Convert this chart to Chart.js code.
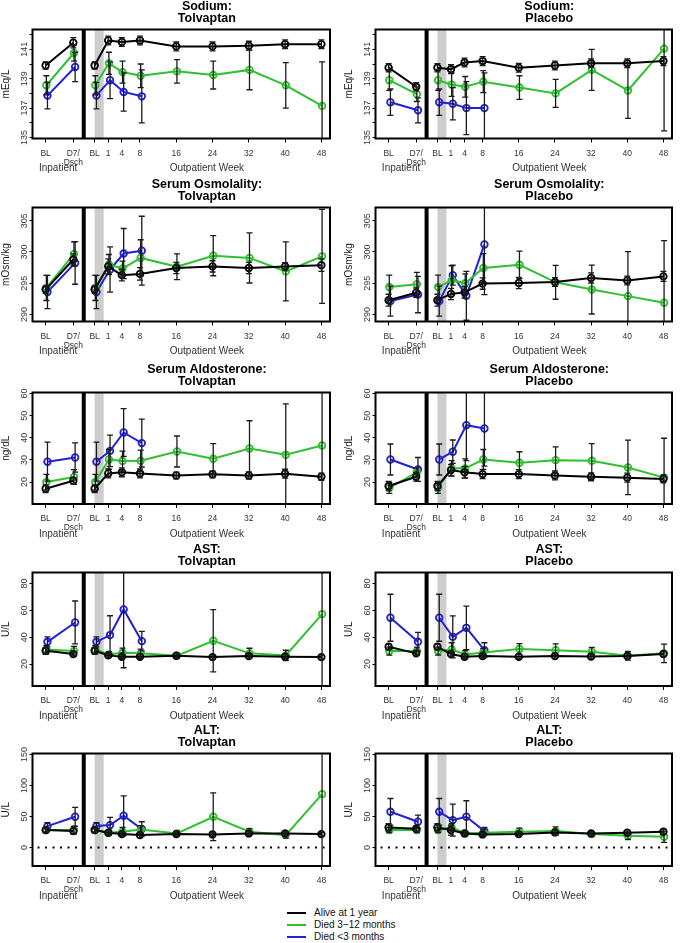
<!DOCTYPE html>
<html>
<head>
<meta charset="utf-8">
<script src="https://cdn.jsdelivr.net/npm/chart.js@4.4.0/dist/chart.umd.min.js"></script>
<style>
    body { margin: 0; background: #fff; width: 685px; height: 943px; overflow: hidden; position: relative; font-family: "Liberation Sans", Arial, sans-serif; }
    canvas { position: absolute; }
    #legend { position: absolute; left: 287px; top: 907px; font-size: 10px; color: #111; }
    #legend div { height: 12px; line-height: 12px; display: flex; align-items: center; white-space: nowrap; }
    #legend .sw { display: inline-block; width: 19px; height: 2px; margin-right: 8px; }
</style>
</head>
<body>
<div id="legend">
    <div><span class="sw" style="background:#000"></span>Alive at 1 year</div>
    <div><span class="sw" style="background:#2ec02e"></span>Died 3&#8722;12 months</div>
    <div><span class="sw" style="background:#2121d9"></span>Died &lt;3 months</div>
</div>
<script>
// Visits: inpatient BL, D7/discharge, outpatient BL, then outpatient weeks
const weeks = [1, 4, 8, 16, 24, 32, 40, 48];
const xTickLabels = ['BL', ['D7/', 'Dsch'], 'BL', '1', '4', '8', '16', '24', '32', '40', '48'];

// y tick values / labels
const sodiumTicks = [135, 136, 137, 138, 139, 140, 141, 142];
const sodiumLabels = ['135', '', '137', '', '139', '', '141', ''];
const osmTicks = [290, 295, 300, 305];
const osmLabels = ['290', '295', '300', '305'];
const aldoTicks = [20, 30, 40, 50, 60];
const aldoLabels = ['20', '30', '40', '50', '60'];
const astTicks = [20, 40, 60, 80];
const astLabels = ['20', '40', '60', '80'];
const altTicks = [0, 50, 100, 150];
const altLabels = ['0', '50', '100', '150'];

// means and +/- error, order: inBL, D7/Dsch, outBL, wk 1,4,8,16,24,32,40,48
const naTolAlive = [139.9, 141.45, 139.9, 141.6, 141.5, 141.6, 141.2, 141.2, 141.25, 141.35, 141.35];
const naTolAliveErr = [0.25, 0.35, 0.25, 0.3, 0.3, 0.3, 0.3, 0.3, 0.3, 0.3, 0.3];
const naTolD312 = [138.55, 140.75, 138.55, 140.05, 139.45, 139.2, 139.5, 139.25, 139.6, 138.55, 137.15];
const naTolD312Err = [0.65, 0.55, 0.65, 0.75, 0.75, 0.8, 0.8, 0.95, 1.35, 1.55, 3.0];
const naTolD3 = [137.85, 139.8, 137.85, 138.9, 138.1, 137.8];
const naTolD3Err = [0.9, 1.0, 0.9, 1.25, 1.3, 1.8];

const naPlaAlive = [139.75, 138.45, 139.75, 139.65, 140.1, 140.2, 139.75, 139.9, 140.05, 140.05, 140.2];
const naPlaAliveErr = [0.28, 0.28, 0.28, 0.3, 0.3, 0.3, 0.3, 0.3, 0.3, 0.3, 0.3];
const naPlaD312 = [138.9, 137.95, 138.9, 138.6, 138.45, 138.8, 138.4, 138.0, 139.6, 138.2, 141.05];
const naPlaD312Err = [0.7, 0.5, 0.7, 0.8, 0.7, 0.75, 0.8, 0.95, 1.4, 1.9, 5.6];
const naPlaD3 = [137.4, 136.85, 137.4, 137.3, 137.0, 137.0];
const naPlaD3Err = [0.9, 0.85, 0.9, 1.1, 1.8, 2.4];

const osmTolAlive = [294.0, 298.8, 294.0, 297.7, 296.3, 296.5, 297.45, 297.7, 297.45, 297.7, 297.9];
const osmTolAliveErr = [0.6, 0.9, 0.6, 1.2, 0.9, 1.0, 0.9, 0.9, 0.9, 0.6, 1.0];
const osmTolD312 = [294.25, 299.7, 294.25, 298.0, 297.35, 299.05, 297.65, 299.4, 299.05, 296.9, 299.3];
const osmTolD312Err = [2.0, 1.9, 2.0, 1.6, 1.2, 2.9, 2.05, 3.2, 4.0, 4.7, 7.5];
const osmTolD3 = [293.6, 298.25, 293.6, 297.2, 299.75, 300.2];
const osmTolD3Err = [2.65, 3.4, 2.65, 3.6, 4.0, 5.5];

const osmPlaAlive = [292.3, 293.5, 292.3, 293.3, 293.55, 294.95, 295.05, 295.2, 295.85, 295.45, 296.1];
const osmPlaAliveErr = [0.95, 0.75, 0.95, 0.9, 0.9, 0.9, 0.9, 0.7, 0.8, 0.7, 0.8];
const osmPlaD312 = [294.4, 294.85, 294.4, 295.5, 295.0, 297.45, 297.95, 295.15, 294.0, 292.95, 291.9];
const osmPlaD312Err = [1.9, 1.9, 1.9, 2.3, 1.5, 2.3, 2.2, 2.7, 3.9, 7.1, 9.9];
const osmPlaD3 = [292.15, 293.2, 292.15, 296.3, 293.0, 301.2];
const osmPlaD3Err = [2.4, 2.9, 2.4, 1.6, 3.9, 8.0];

const aldoTolAlive = [17.0, 20.6, 17.0, 23.9, 24.4, 23.9, 23.0, 23.5, 23.0, 23.8, 22.4];
const aldoTolAliveErr = [1.7, 1.5, 1.7, 2.0, 2.0, 2.0, 1.5, 1.6, 1.6, 2.0, 1.6];
const aldoTolD312 = [20.0, 22.3, 20.0, 30.2, 29.5, 29.6, 33.8, 30.5, 35.2, 32.3, 36.5];
const aldoTolD312Err = [3.5, 3.3, 3.5, 4.5, 4.5, 4.8, 7.0, 6.9, 12.5, 23.0, 28.0];
const aldoTolD3 = [29.2, 31.1, 29.2, 34.1, 42.4, 37.6];
const aldoTolD3Err = [8.8, 6.6, 8.8, 7.1, 10.8, 10.8];

const aldoPlaAlive = [18.2, 22.4, 18.2, 25.4, 24.4, 23.6, 23.6, 23.0, 22.4, 22.0, 21.4];
const aldoPlaAliveErr = [2.1, 2.0, 2.1, 2.6, 2.6, 2.0, 2.0, 2.0, 1.8, 2.0, 1.8];
const aldoPlaD312 = [17.4, 24.4, 17.4, 26.2, 26.2, 30.2, 28.7, 29.9, 29.6, 26.6, 22.0];
const aldoPlaD312Err = [2.5, 2.0, 2.5, 3.5, 4.3, 4.5, 5.0, 6.0, 7.8, 12.3, 17.8];
const aldoPlaD3 = [30.2, 25.7, 30.2, 33.7, 45.7, 44.2];
const aldoPlaD3Err = [7.0, 5.4, 7.0, 5.3, 16.0, 17.0];

const astTolAlive = [29.9, 27.5, 29.9, 26.5, 25.5, 25.5, 26.2, 25.2, 26.0, 25.5, 25.2];
const astTolAliveErr = [2.6, 1.5, 2.6, 1.5, 1.5, 1.5, 1.5, 1.5, 1.5, 1.5, 1.5];
const astTolD312 = [30.9, 29.7, 30.9, 27.2, 28.4, 28.0, 26.2, 37.4, 28.0, 26.5, 57.2];
const astTolD312Err = [3.0, 3.5, 3.0, 2.0, 3.5, 3.2, 1.8, 23.2, 3.8, 3.8, 55.0];
const astTolD3 = [36.6, 51.0, 36.6, 41.6, 60.7, 37.1];
const astTolD3Err = [3.7, 16.0, 3.7, 14.4, 43.4, 7.2];

const astPlaAlive = [32.9, 28.0, 32.9, 27.5, 25.5, 26.0, 25.5, 26.0, 25.7, 26.0, 27.5];
const astPlaAliveErr = [2.0, 1.5, 2.0, 2.0, 1.5, 1.5, 1.5, 1.5, 1.5, 1.5, 2.0];
const astPlaD312 = [29.7, 29.7, 29.7, 30.9, 27.2, 28.7, 31.2, 30.4, 29.2, 26.2, 28.0];
const astPlaD312Err = [3.0, 3.0, 3.0, 5.0, 3.0, 3.0, 4.0, 4.7, 3.3, 3.2, 6.9];
const astPlaD3 = [54.5, 36.6, 54.5, 40.3, 47.0, 30.4];
const astPlaD3Err = [17.5, 7.0, 17.5, 15.6, 16.2, 5.5];

const altTolAlive = [28.0, 26.3, 28.0, 23.7, 21.5, 19.9, 21.5, 21.0, 22.6, 22.6, 21.5];
const altTolAliveErr = [4, 5, 4, 3, 3, 4, 3, 3, 3, 3, 3];
const altTolD312 = [28.0, 28.0, 28.0, 23.7, 25.3, 29.0, 22.6, 49.5, 25.3, 19.9, 86.0];
const altTolD312Err = [3, 6, 3, 4, 7, 6, 4, 38.7, 5, 5, 120];
const altTolD3 = [34.4, 49.5, 34.4, 36.0, 51.1, 29.6];
const altTolD3Err = [5.4, 15, 5.4, 12.4, 32.2, 11.8];

const altPlaAlive = [32.3, 30.1, 32.3, 28.0, 22.6, 21.0, 21.5, 24.2, 22.6, 23.7, 25.3];
const altPlaAliveErr = [6, 4, 6, 8, 3, 3, 3, 4, 3, 3, 4];
const altPlaD312 = [28.0, 28.0, 28.0, 32.3, 22.6, 23.7, 25.3, 26.3, 21.5, 18.8, 17.2];
const altPlaD312Err = [4, 4, 4, 6, 3, 5, 6, 7, 3, 6, 9];
const altPlaD3 = [57.5, 41.4, 57.5, 44.1, 49.5, 26.3];
const altPlaD3Err = [21.5, 10.8, 21.5, 25.8, 25.8, 6];

// layout: x axis is a single linear scale in "weeks"; inpatient part sits left of the separator
const X_MIN = -15.7, X_MAX = 49.9;
const IN_BL = -12.8, IN_D7 = -6.7, SEP = -4.4, OUT_BL = -2;
const xPos = [IN_BL, IN_D7, OUT_BL, ...weeks];
const xTickPos = xPos;

const COLORS = ['#000000', '#2ec02e', '#2121d9'];
const OFFSETS = [0, 0.15, 0.4];

const colGeom = [
    { canvasLeft: 0, boxLeft: 32.5, boxRight: 330 },
    { canvasLeft: 340, boxLeft: 375.5, boxRight: 672 }
];
const rowTops = [29.5, 207.5, 392.5, 572.5, 753.5];
const rowBottoms = [138.5, 321.5, 504, 686, 866];

const panels = [
    { title: ['Sodium:', 'Tolvaptan'], unit: 'mEq/L', row: 0, col: 0, yMin: 134.93, yMax: 142.35, yTicks: sodiumTicks, yLabels: sodiumLabels,
      series: [[naTolAlive, naTolAliveErr], [naTolD312, naTolD312Err], [naTolD3, naTolD3Err]] },
    { title: ['Sodium:', 'Placebo'], unit: 'mEq/L', row: 0, col: 1, yMin: 134.93, yMax: 142.35, yTicks: sodiumTicks, yLabels: sodiumLabels,
      series: [[naPlaAlive, naPlaAliveErr], [naPlaD312, naPlaD312Err], [naPlaD3, naPlaD3Err]] },
    { title: ['Serum Osmolality:', 'Tolvaptan'], unit: 'mOsm/kg', row: 1, col: 0, yMin: 288.9, yMax: 307.1, yTicks: osmTicks, yLabels: osmLabels,
      series: [[osmTolAlive, osmTolAliveErr], [osmTolD312, osmTolD312Err], [osmTolD3, osmTolD3Err]] },
    { title: ['Serum Osmolality:', 'Placebo'], unit: 'mOsm/kg', row: 1, col: 1, yMin: 288.9, yMax: 307.1, yTicks: osmTicks, yLabels: osmLabels,
      series: [[osmPlaAlive, osmPlaAliveErr], [osmPlaD312, osmPlaD312Err], [osmPlaD3, osmPlaD3Err]] },
    { title: ['Serum Aldosterone:', 'Tolvaptan'], unit: 'ng/dL', row: 2, col: 0, yMin: 10.1, yMax: 60.45, yTicks: aldoTicks, yLabels: aldoLabels,
      series: [[aldoTolAlive, aldoTolAliveErr], [aldoTolD312, aldoTolD312Err], [aldoTolD3, aldoTolD3Err]] },
    { title: ['Serum Aldosterone:', 'Placebo'], unit: 'ng/dL', row: 2, col: 1, yMin: 10.1, yMax: 60.45, yTicks: aldoTicks, yLabels: aldoLabels,
      series: [[aldoPlaAlive, aldoPlaAliveErr], [aldoPlaD312, aldoPlaD312Err], [aldoPlaD3, aldoPlaD3Err]] },
    { title: ['AST:', 'Tolvaptan'], unit: 'U/L', row: 3, col: 0, yMin: 3.7, yMax: 88.2, yTicks: astTicks, yLabels: astLabels,
      series: [[astTolAlive, astTolAliveErr], [astTolD312, astTolD312Err], [astTolD3, astTolD3Err]] },
    { title: ['AST:', 'Placebo'], unit: 'U/L', row: 3, col: 1, yMin: 3.7, yMax: 88.2, yTicks: astTicks, yLabels: astLabels,
      series: [[astPlaAlive, astPlaAliveErr], [astPlaD312, astPlaD312Err], [astPlaD3, astPlaD3Err]] },
    { title: ['ALT:', 'Tolvaptan'], unit: 'U/L', row: 4, col: 0, yMin: -30, yMax: 151.6, yTicks: altTicks, yLabels: altLabels, zeroLine: true,
      series: [[altTolAlive, altTolAliveErr], [altTolD312, altTolD312Err], [altTolD3, altTolD3Err]] },
    { title: ['ALT:', 'Placebo'], unit: 'U/L', row: 4, col: 1, yMin: -30, yMax: 151.6, yTicks: altTicks, yLabels: altLabels, zeroLine: true,
      series: [[altPlaAlive, altPlaAliveErr], [altPlaD312, altPlaD312Err], [altPlaD3, altPlaD3Err]] }
];

const FONT = '"Liberation Sans", Arial, sans-serif';
Chart.defaults.font.family = FONT;

const measureCtx = document.createElement('canvas').getContext('2d');
function yTickPadding(labels) {
    measureCtx.font = '9px ' + FONT;
    const widest = Math.max(...labels.map(l => measureCtx.measureText(l).width));
    // rotated label centre should sit ~7.5px left of the box
    return 4.5 - widest / 2;
}

// build points, with a null gap between inpatient and outpatient visits
function buildSeries(vals, errs, off) {
    const pts = [];
    const e = [];
    vals.forEach((v, i) => {
        if (i === 2) {
            pts.push({ x: SEP, y: null });
            e.push(null);
        }
        pts.push({ x: xPos[i] + off, y: v });
        e.push(errs[i]);
    });
    return { pts, e };
}

function makeDecor(p) {
    return {
        id: 'panelDecor',
        beforeDatasetsDraw(chart) {
            const { ctx, chartArea: a, scales: { x, y } } = chart;
            ctx.save();
            // screening / run-in band
            const b0 = x.getPixelForValue(OUT_BL);
            const b1 = x.getPixelForValue(0);
            ctx.fillStyle = '#cdcdcd';
            ctx.fillRect(b0, a.top, b1 - b0, a.bottom - a.top);
            if (p.zeroLine) {
                const yz = y.getPixelForValue(0);
                ctx.strokeStyle = '#000';
                ctx.lineWidth = 2;
                ctx.setLineDash([2, 5.5]);
                ctx.beginPath();
                ctx.moveTo(a.left + 5, yz);
                ctx.lineTo(a.right, yz);
                ctx.stroke();
            }
            ctx.restore();
        },
        afterDatasetsDraw(chart) {
            const { ctx, chartArea: a, scales: { x, y } } = chart;
            ctx.save();
            ctx.beginPath();
            ctx.rect(a.left, a.top, a.right - a.left, a.bottom - a.top);
            ctx.clip();
            ctx.strokeStyle = '#1a1a1a';
            ctx.lineWidth = 1.3;
            chart.data.datasets.forEach(ds => {
                ds.data.forEach((pt, i) => {
                    const err = ds.errs[i];
                    if (pt.y == null || err == null) return;
                    const px = x.getPixelForValue(pt.x);
                    const hi = y.getPixelForValue(pt.y + err);
                    const lo = y.getPixelForValue(pt.y - err);
                    ctx.beginPath();
                    ctx.moveTo(px, hi);
                    ctx.lineTo(px, lo);
                    ctx.moveTo(px - 3, hi);
                    ctx.lineTo(px + 3, hi);
                    ctx.moveTo(px - 3, lo);
                    ctx.lineTo(px + 3, lo);
                    ctx.stroke();
                });
            });
            ctx.restore();
        },
        afterDraw(chart) {
            const { ctx, chartArea: a, scales: { x } } = chart;
            const sp = x.getPixelForValue(SEP);
            ctx.save();
            ctx.strokeStyle = '#000';
            ctx.lineWidth = 2;
            ctx.strokeRect(a.left, a.top, a.right - a.left, a.bottom - a.top);
            ctx.lineWidth = 4;
            ctx.beginPath();
            ctx.moveTo(sp, a.top);
            ctx.lineTo(sp, a.bottom);
            ctx.stroke();

            // panel title, centred over the outpatient box
            const cx = (sp + a.right) / 2;
            ctx.fillStyle = '#000';
            ctx.textAlign = 'center';
            ctx.textBaseline = 'middle';
            ctx.font = 'bold 12.5px ' + FONT;
            ctx.fillText(p.title[0], cx, a.top - 23);
            ctx.fillText(p.title[1], cx, a.top - 10.5);

            ctx.fillStyle = '#333';
            ctx.font = '10px ' + FONT;
            ctx.fillText('Inpatient', (a.left + sp) / 2, a.bottom + 30);
            ctx.fillText('Outpatient Week', cx, a.bottom + 30);
            ctx.restore();
        }
    };
}

panels.forEach(p => {
    const g = colGeom[p.col];
    const boxTop = rowTops[p.row];
    const boxBottom = rowBottoms[p.row];
    const canvasTop = Math.floor(boxTop - 29);
    const height = Math.ceil(boxBottom - canvasTop + 48);
    const xAxisH = height - (boxBottom - canvasTop);

    const canvas = document.createElement('canvas');
    canvas.width = 345;
    canvas.height = height;
    canvas.style.left = g.canvasLeft + 'px';
    canvas.style.top = canvasTop + 'px';
    canvas.style.width = '345px';
    canvas.style.height = height + 'px';
    document.body.appendChild(canvas);

    const datasets = p.series.map(([vals, errs], k) => {
        const s = buildSeries(vals, errs, OFFSETS[k]);
        return {
            data: s.pts,
            errs: s.e,
            borderColor: COLORS[k],
            borderWidth: 2,
            pointRadius: 3.3,
            pointBorderWidth: 1.8,
            pointBorderColor: COLORS[k],
            pointBackgroundColor: 'rgba(255,255,255,0)',
            spanGaps: false,
            tension: 0
        };
    });

    new Chart(canvas, {
        type: 'line',
        data: { datasets },
        options: {
            responsive: false,
            animation: false,
            events: [],
            devicePixelRatio: 1,
            layout: {
                padding: {
                    left: g.boxLeft - 32 - g.canvasLeft,
                    right: g.canvasLeft + 345 - g.boxRight,
                    top: boxTop - canvasTop,
                    bottom: 0
                }
            },
            plugins: {
                legend: { display: false },
                title: { display: false },
                tooltip: { enabled: false }
            },
            scales: {
                x: {
                    type: 'linear',
                    min: X_MIN,
                    max: X_MAX,
                    afterBuildTicks: s => { s.ticks = xTickPos.map(v => ({ value: v })); },
                    afterFit: s => { s.height = xAxisH; },
                    grid: { drawOnChartArea: false, drawTicks: true, tickLength: 4, color: '#000' },
                    border: { display: false },
                    ticks: {
                        autoSkip: false,
                        maxRotation: 0,
                        minRotation: 0,
                        padding: 6,
                        color: '#333',
                        font: { size: 8.5, lineHeight: 1.1 },
                        callback: (v, i) => xTickLabels[i]
                    }
                },
                y: {
                    min: p.yMin,
                    max: p.yMax,
                    afterBuildTicks: s => { s.ticks = p.yTicks.map(v => ({ value: v })); },
                    afterFit: s => { s.width = 32; },
                    grid: { drawOnChartArea: false, drawTicks: true, tickLength: 3, color: '#000' },
                    border: { display: false },
                    ticks: {
                        autoSkip: false,
                        minRotation: 90,
                        maxRotation: 90,
                        crossAlign: 'center',
                        padding: yTickPadding(p.yLabels.filter(l => l)),
                        color: '#333',
                        font: { size: 9 },
                        callback: (v, i) => p.yLabels[i]
                    },
                    title: { display: true, text: p.unit, color: '#222', font: { size: 10 }, padding: { top: 0, bottom: 0 } }
                }
            }
        },
        plugins: [makeDecor(p)]
    });
});
</script>
</body>
</html>
